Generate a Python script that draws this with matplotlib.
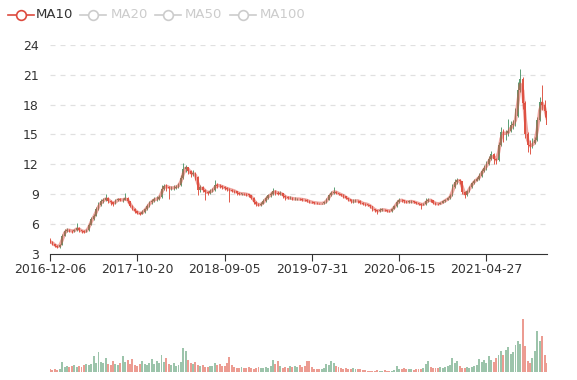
import numpy as np
import pandas as pd
import matplotlib
matplotlib.use('Agg')
import matplotlib.pyplot as plt
from matplotlib.lines import Line2D

# each candle here stands for roughly 6 trading sessions
tick_labels = ['2016-12-06', '2017-10-20', '2018-09-05', '2019-07-31', '2020-06-15', '2021-04-27']
tick_step = 36
first_open = 4.3
ma_window = 2  # ~10 sessions

closes = [4.2,3.95,3.8,3.65,3.9,4.8,5.3,5.4,5.3,5.25,
5.35,5.6,5.35,5.25,5.2,5.35,5.9,6.5,6.8,7.5,
7.9,8.25,8.4,8.6,8.3,8.15,8.0,8.35,8.45,8.4,
8.4,8.6,8.25,7.8,7.5,7.25,7.1,7.0,7.2,7.45,
7.8,8.15,8.3,8.5,8.5,8.7,9.5,9.8,9.75,9.6,
9.6,9.65,9.75,9.9,10.6,11.5,11.7,11.3,11.0,11.1,
10.7,9.4,9.7,9.45,9.2,9.1,9.3,9.4,9.9,9.85,
9.8,9.7,9.6,9.5,9.45,9.35,9.28,9.1,9.03,9.03,
9.0,8.95,8.88,8.6,8.2,7.95,7.9,8.0,8.3,8.6,
8.85,8.95,9.35,9.1,9.05,9.1,8.8,8.65,8.6,8.6,
8.5,8.5,8.5,8.47,8.43,8.4,8.3,8.2,8.15,8.1,
8.08,8.05,8.05,8.15,8.4,8.85,9.15,9.25,9.12,9.0,
8.9,8.75,8.6,8.45,8.27,8.27,8.33,8.3,8.1,8.03,
8.0,7.9,7.75,7.5,7.35,7.27,7.4,7.42,7.37,7.3,
7.27,7.5,7.8,8.2,8.4,8.35,8.25,8.18,8.25,8.25,
8.17,8.1,8.0,7.93,7.95,8.3,8.4,8.35,8.1,8.03,
8.0,8.1,8.25,8.4,8.55,8.8,9.7,10.2,10.4,10.3,
9.2,8.85,9.3,9.7,10.1,10.35,10.5,10.8,11.3,11.6,
12.0,12.5,13.0,12.5,12.4,13.9,15.2,15.1,15.1,15.3,
15.9,16.0,16.9,19.5,20.6,18.2,15.0,13.9,13.8,14.1,
14.4,16.5,18.3,18.0,17.4,15.9]

highs = [4.6,4.25,4.0,3.85,4.0,4.95,5.5,5.6,5.5,5.4,
5.5,6.05,5.65,5.4,5.35,5.5,6.1,6.7,7.0,7.7,
8.2,8.5,8.6,9.05,8.7,8.35,8.2,8.5,8.6,8.55,
8.6,9.1,8.7,8.3,7.85,7.55,7.3,7.15,7.35,7.6,
7.95,8.3,8.5,8.7,8.75,8.9,9.9,10.05,10.0,9.85,
9.8,9.9,9.95,10.1,10.9,12.1,11.95,11.7,11.4,11.4,
11.2,10.8,9.9,9.8,9.5,9.3,9.5,9.6,10.4,10.1,
10.0,9.9,9.8,9.7,9.65,9.55,9.45,9.3,9.2,9.15,
9.15,9.1,9.0,8.9,8.65,8.25,8.05,8.15,8.45,8.75,
9.0,9.2,9.65,9.4,9.3,9.3,9.15,8.85,8.75,8.75,
8.65,8.65,8.6,8.6,8.55,8.5,8.45,8.35,8.3,8.2,
8.15,8.12,8.12,8.25,8.55,9.0,9.35,9.7,9.3,9.15,
9.05,8.95,8.8,8.6,8.5,8.45,8.5,8.4,8.35,8.15,
8.1,8.0,7.9,7.8,7.5,7.4,7.55,7.55,7.5,7.4,
7.35,7.6,7.9,8.35,8.55,8.5,8.4,8.3,8.35,8.35,
8.3,8.2,8.1,8.05,8.05,8.6,8.55,8.45,8.4,8.15,
8.1,8.2,8.35,8.5,8.7,9.0,10.0,10.5,10.6,10.5,
10.35,9.3,9.45,9.85,10.25,10.5,10.7,11.1,11.5,11.9,
12.3,12.8,13.3,13.1,12.6,14.2,15.7,15.5,15.4,16.6,
16.3,16.5,17.7,20.3,21.6,20.8,18.4,15.2,14.4,14.6,
14.7,16.8,18.8,20.0,18.5,17.6]

lows = [4.05,3.85,3.7,3.55,3.6,3.85,4.75,5.2,5.15,5.1,
5.2,5.3,5.2,5.1,5.05,5.15,5.3,5.85,6.4,6.75,
7.4,7.8,8.1,8.3,8.1,7.85,7.8,7.95,8.25,8.25,
8.2,8.35,8.1,7.7,7.35,7.1,6.95,6.85,6.95,7.1,
7.4,7.7,8.0,8.2,8.3,8.4,8.6,9.4,9.3,8.5,
9.4,9.45,9.5,9.6,9.8,10.5,11.2,11.0,10.7,10.8,
10.4,8.9,9.2,9.2,8.4,8.9,9.0,9.2,9.3,9.6,
9.6,9.5,9.4,9.3,8.2,9.2,9.1,8.9,8.9,8.9,
8.85,8.8,8.7,8.45,7.95,7.75,7.75,7.8,7.95,8.2,
8.5,8.7,8.9,8.9,8.85,8.9,8.6,8.35,8.45,8.45,
8.35,8.4,8.4,8.35,8.3,8.3,8.15,8.1,8.05,8.0,
8.0,7.98,7.97,8.0,8.1,8.35,8.8,9.05,9.0,8.9,
8.8,8.6,8.45,8.3,8.1,8.1,8.15,8.1,7.95,7.9,
7.8,7.75,7.6,7.3,7.2,7.0,7.2,7.3,7.25,7.2,
7.15,7.2,7.45,7.7,8.1,8.2,8.1,8.05,8.1,8.1,
8.05,7.95,7.85,7.45,7.85,7.9,8.2,8.2,8.0,7.9,
7.9,7.95,8.05,8.2,8.35,8.5,8.75,9.6,10.0,10.0,
9.0,8.6,8.8,9.2,9.6,10.0,10.3,10.4,10.7,11.2,
11.4,11.9,12.4,12.0,12.0,12.3,13.8,14.2,14.4,14.8,
15.2,15.5,15.8,16.8,19.3,17.6,14.6,13.2,13.0,13.6,
14.0,14.3,16.3,17.5,16.8,15.6]

volumes = [3,2,3,2,3,10,5,6,5,6,
7,5,6,5,7,8,7,8,16,9,
20,10,9,14,8,7,11,8,7,9,
16,10,12,8,13,7,6,8,11,8,
7,9,13,8,11,9,17,10,14,8,
7,9,6,7,10,24,21,12,9,8,
10,7,6,7,5,5,6,6,9,7,
8,6,6,9,15,7,5,4,4,5,
4,4,5,4,3,4,5,4,4,5,
4,6,12,8,11,6,4,5,4,6,
5,6,5,7,5,6,11,11,5,3,
3,3,3,4,8,7,11,9,6,5,
4,3,4,3,3,4,3,3,3,2,
2,1.5,1.5,1.5,1.5,2,1.5,1.5,2,1.5,
1.5,1.5,2,6,3,3,4,3,3,3,
2,3,3,3,4,8,11,5,4,4,
4,5,4,5,6,7,14,9,11,6,
4,4,5,4,5,6,7,13,10,12,
9,16,12,10,14,17,21,17,22,25,
18,20,27,31,28,53,26,11,9,14,
21,41,31,36,17,9]

rise_color = '#5a9e74'
fall_color = '#e05a4a'
ma_color = '#dd4a3e'

c = np.array(closes)
o = np.r_[first_open, c[:-1]]
h = np.array(highs)
l = np.array(lows)
v = np.array(volumes)
n = len(c)
x = np.arange(n)
rising = c >= o
cols = np.where(rising, rise_color, fall_color)

fig = plt.figure(figsize=(5.77, 3.80), dpi=100)
ax = fig.add_axes([50/577, (380-253.6)/380, 497/577, (253.6-45)/380])
vax = fig.add_axes([50/577, 8/380, 497/577, 72/380])

ax.vlines(x, l, h, colors=cols, lw=0.7, zorder=3)
body = np.maximum(np.abs(c - o), 0.04)
ax.bar(x, body, bottom=np.minimum(o, c), width=0.7, color=cols, lw=0, zorder=3)
ma = pd.Series(c).rolling(ma_window, min_periods=1).mean()
ax.plot(x, ma, color=ma_color, lw=2.4, alpha=0.5, zorder=4)

ax.set_xlim(0, n - 1)
ax.set_ylim(3, 24)
ax.set_yticks(range(3, 25, 3))
for yv in range(6, 25, 3):
    ax.axhline(yv, color='#e0e0e0', lw=0.9, ls=(0, (4, 4)), zorder=1)
for s in ['top', 'right', 'left']:
    ax.spines[s].set_visible(False)
ax.spines['bottom'].set_color('#333333')
ax.set_xticks(np.arange(len(tick_labels)) * tick_step)
ax.set_xticklabels(tick_labels)
ax.tick_params(axis='y', length=0, pad=8, labelsize=9, labelcolor='#333333')
ax.tick_params(axis='x', length=5, color='#333333', labelsize=9, labelcolor='#333333', pad=2)

vax.bar(x, v, width=0.8, color=cols, alpha=0.6, lw=0)
vax.set_xlim(0, n - 1)
vax.set_ylim(0, v.max() * 72 / 53)
vax.axis('off')

# legend
legend_items = [('MA10', 21, 36, ma_color, '#333333'),
                ('MA20', 93, 111, '#cccccc', '#cccccc'),
                ('MA50', 168, 185, '#cccccc', '#cccccc'),
                ('MA100', 243, 260, '#cccccc', '#cccccc')]
ly = 1 - 15/380
for name, cx, tx, ic, tc in legend_items:
    fig.add_artist(Line2D([(cx-13)/577, (cx+13)/577], [ly, ly], color=ic, lw=1.2))
    fig.add_artist(Line2D([cx/577], [ly], marker='o', ms=7, mfc='white', mec=ic, mew=1.2, color=ic))
    fig.text(tx/577, ly, name, fontsize=9.5, color=tc, va='center', ha='left')

fig.savefig('out.png', dpi=100)
